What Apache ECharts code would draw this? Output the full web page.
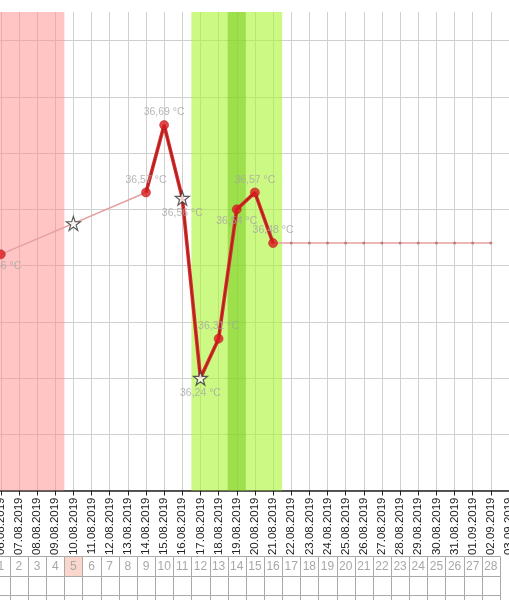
<!DOCTYPE html>
<html>
<head>
<meta charset="utf-8">
<script src="https://cdn.jsdelivr.net/npm/echarts@6/dist/echarts.min.js"></script>
<style>
html,body{margin:0;padding:0;background:#fff;}
#chart{width:509px;height:600px;}
</style>
</head>
<body>
<div id="chart"></div>
<script>
// ---- data ----
const dates = ['06.08.2019','07.08.2019','08.08.2019','09.08.2019','10.08.2019','11.08.2019','12.08.2019',
  '13.08.2019','14.08.2019','15.08.2019','16.08.2019','17.08.2019','18.08.2019','19.08.2019','20.08.2019',
  '21.08.2019','22.08.2019','23.08.2019','24.08.2019','25.08.2019','26.08.2019','27.08.2019','28.08.2019',
  '29.08.2019','30.08.2019','31.08.2019','01.09.2019','02.09.2019','03.09.2019'];
const tempDays = [0, 8, 9, 10, 11, 12, 13, 14, 15];
const temps = [36.46, 36.57, 36.69, 36.56, 36.24, 36.31, 36.54, 36.57, 36.48];
const starDays = [4, 10, 11];
const starTemps = [36.515, 36.56, 36.24];
const forecastDays = [15, 16, 17, 18, 19, 20, 21, 22, 23, 24, 25, 26, 27];
const forecastTemps = [36.48, 36.48, 36.48, 36.48, 36.48, 36.48, 36.48, 36.48, 36.48, 36.48, 36.48, 36.48, 36.48];
const cycleDays = [1,2,3,4,5,6,7,8,9,10,11,12,13,14,15,16,17,18,19,20,21,22,23,24,25,26,27,28];
const highlightedCycleDay = 5;
const menstruationDays = [1, 4];
const fertileDays = [12, 16];
const ovulationDay = 14;

// ---- styling / layout ----
const labelBelowDays = [0, 10, 11, 13];
const starPath = 'path://M50,0 L61.8,35.1 L98.9,35.1 L68.9,56.9 L80.3,92.1 L50,70.3 L19.7,92.1 L31.1,56.9 L1.1,35.1 L38.2,35.1 Z';
const fmt = v => v.toFixed(2).replace('.', ',') + ' \u00B0C';
const labelStyle = {color: '#a5a5a5', fontSize: 10.5, fontFamily: 'Arial'};

const measured = tempDays.map((d, i) => [d, temps[i]]);
const dayIdx = d => d - 1;

const pointData = measured.map(p => {
  const isStar = starDays.indexOf(p[0]) >= 0;
  const below = labelBelowDays.indexOf(p[0]) >= 0;
  return {
    value: p,
    symbol: isStar ? starPath : 'circle',
    symbolSize: isStar ? 14 : 9,
    itemStyle: isStar ? {color: '#fff', borderColor: '#333', borderWidth: 1.2} : {color: '#da1a1f', borderColor: '#b81216', borderWidth: 0.6},
    label: {show: true, position: below ? 'bottom' : 'top', distance: below ? 1.5 : 2.5, formatter: () => fmt(p[1]), ...labelStyle}
  };
});
const extraStars = starDays.map((d, i) => [d, starTemps[i]]).filter(p => tempDays.indexOf(p[0]) < 0);

const cellData = [];
const cellLabels = [];
for (let r = 0; r < 3; r++) {
  cycleDays.forEach(d => {
    cellData.push([dayIdx(d), r]);
    cellLabels.push({text: r === 0 ? String(d) : '', hi: r === 0 && d === highlightedCycleDay});
  });
}

const chart = echarts.init(document.getElementById('chart'));
const gridLeft = -17.35, gridWidth = 544.5;
chart.setOption({
  animation: false,
  backgroundColor: '#fff',
  grid: [
    {left: gridLeft, top: 12, width: gridWidth, height: 478.5, outerBoundsMode: 'none', containLabel: false},
    {left: gridLeft, top: 556, width: gridWidth, height: 58.5, outerBoundsMode: 'none', containLabel: false}
  ],
  xAxis: [
    {type: 'value', gridIndex: 0, min: -1, max: 29, interval: 1,
     axisLine: {lineStyle: {color: '#222', width: 1.5}},
     axisTick: {length: 5, lineStyle: {color: '#222'}},
     axisLabel: {rotate: 90, margin: 7, fontSize: 11.5, color: '#222', fontFamily: 'Arial',
       formatter: v => dates[Math.round(v)] || '', showMinLabel: true, showMaxLabel: true},
     splitLine: {show: true, lineStyle: {color: '#d0d0d0'}}},
    {type: 'value', gridIndex: 1, min: -1, max: 29, show: false}
  ],
  yAxis: [
    {type: 'value', gridIndex: 0, min: 36.04, max: 36.891, interval: 0.1,
     axisLine: {show: false}, axisTick: {show: false}, axisLabel: {show: false},
     splitLine: {show: true, showMaxLine: false, lineStyle: {color: '#d0d0d0'}}},
    {type: 'category', gridIndex: 1, data: ['a', 'b', 'c'], inverse: true, show: false}
  ],
  series: [
    {type: 'line', data: [measured[0], measured[1]], symbol: 'none', z: 2,
     lineStyle: {color: '#e6a0a0', width: 1.5},
     markArea: {silent: true, label: {show: false}, data: [
       [{xAxis: dayIdx(menstruationDays[0]) - 0.5, itemStyle: {color: 'rgba(255,140,140,0.5)'}}, {xAxis: dayIdx(menstruationDays[1]) + 0.5}],
       [{xAxis: dayIdx(fertileDays[0]) - 0.5, itemStyle: {color: 'rgba(170,245,50,0.6)'}}, {xAxis: dayIdx(fertileDays[1]) + 0.5}],
       [{xAxis: dayIdx(ovulationDay) - 0.5, itemStyle: {color: 'rgba(110,200,20,0.5)'}}, {xAxis: dayIdx(ovulationDay) + 0.5}]
     ]}},
    {type: 'line', data: forecastDays.map((d, i) => [d, forecastTemps[i]]), z: 2,
     symbol: 'circle', symbolSize: 3, showAllSymbol: true,
     itemStyle: {color: '#c27c7c'}, lineStyle: {color: '#e6a0a0', width: 1.5}},
    {type: 'line', data: measured.slice(1), symbol: 'none', z: 3,
     lineStyle: {color: '#dd2b2d', width: 3.6}},
    {type: 'line', data: measured.slice(1), symbol: 'none', z: 4,
     lineStyle: {color: '#a02519', width: 1.2}},
    {type: 'scatter', data: pointData, z: 6},
    {type: 'scatter', data: extraStars, z: 6, symbol: starPath, symbolSize: 14,
     itemStyle: {color: '#fff', borderColor: '#333', borderWidth: 1.2}},
    {type: 'custom', xAxisIndex: 1, yAxisIndex: 1, data: cellData, z: 2,
     renderItem: function (params, api) {
       const c = api.coord([api.value(0), api.value(1)]);
       const s = api.size([1, 1], [api.value(0), api.value(1)]);
       const x1 = Math.round(c[0] - s[0] / 2), x2 = Math.round(c[0] + s[0] / 2);
       const y1 = Math.round(c[1] - s[1] / 2), y2 = Math.round(c[1] + s[1] / 2);
       const info = cellLabels[params.dataIndex];
       return {type: 'group', children: [
         {type: 'rect', shape: {x: x1 + 0.5, y: y1 + 0.5, width: x2 - x1, height: y2 - y1},
          style: {fill: info.hi ? '#fbd6cd' : '#fff', stroke: '#a9a9a9', lineWidth: 1}},
         {type: 'text', x: c[0], y: c[1] + 1,
          style: {text: info.text, fill: '#a8a8a8', font: '12px Arial', align: 'center', verticalAlign: 'middle', textAlign: 'center', textVerticalAlign: 'middle'}}
       ]};
     }}
  ]
});
</script>
</body>
</html>
